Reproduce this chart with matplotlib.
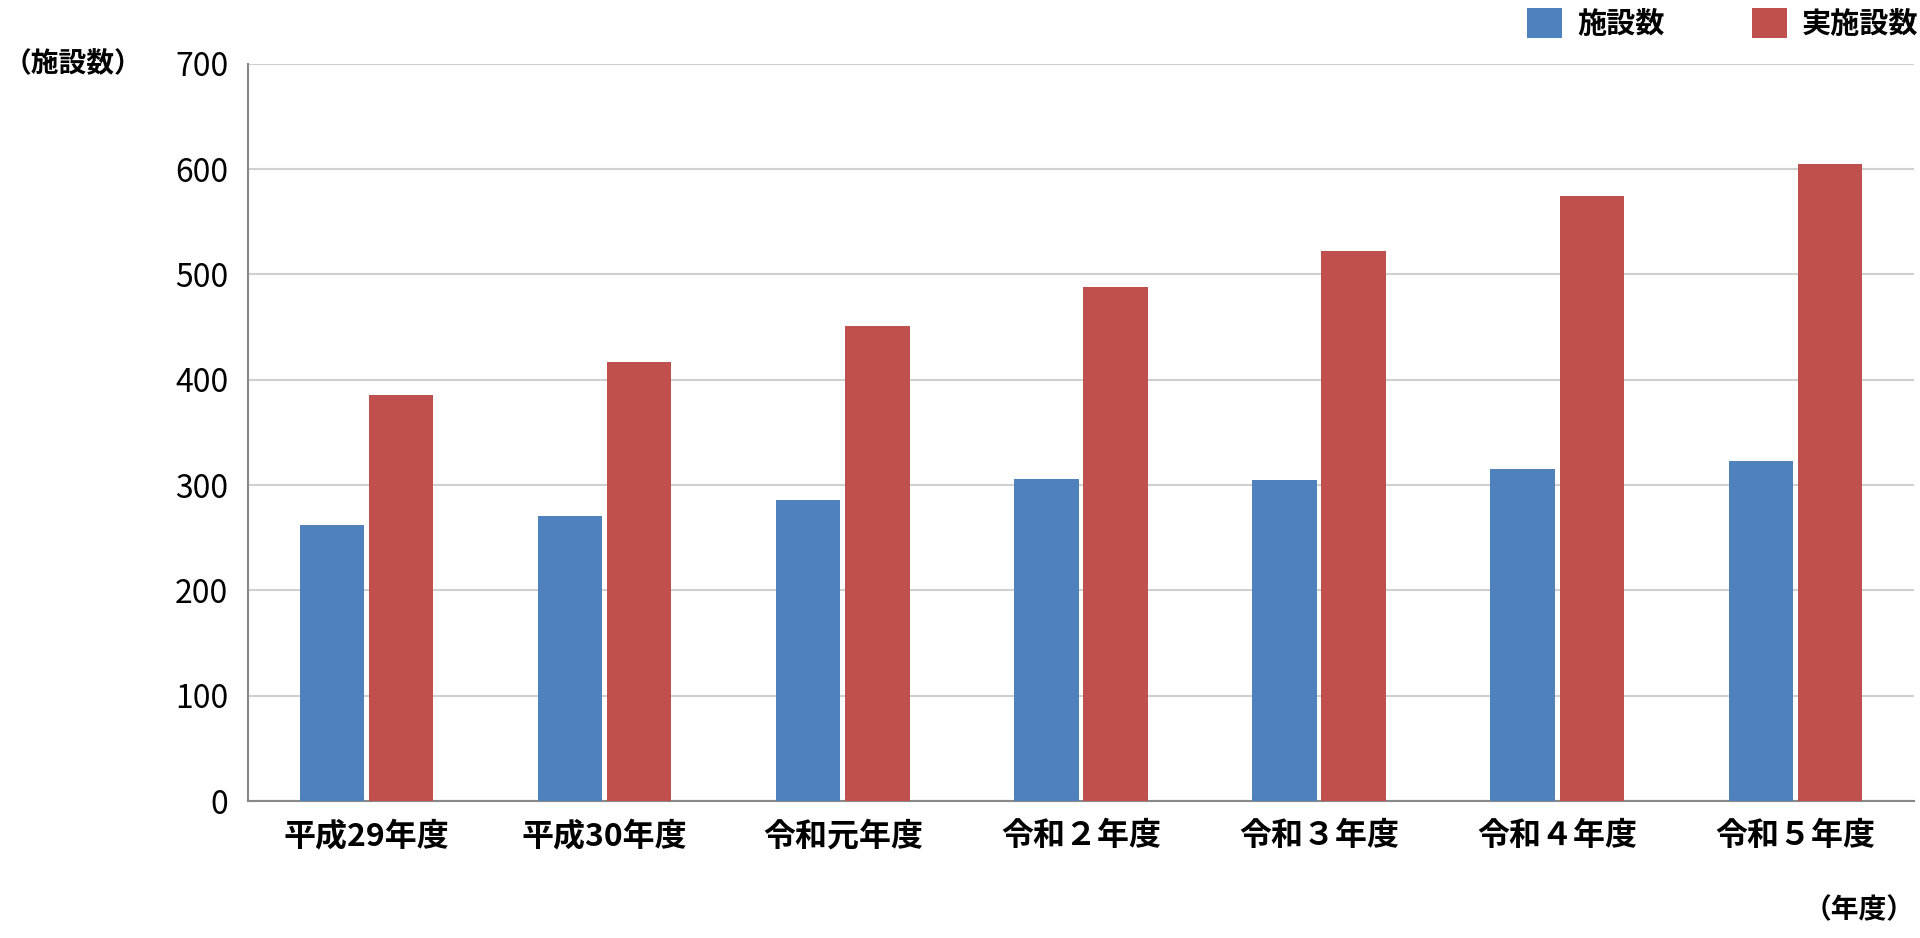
import matplotlib
matplotlib.use("Agg")
import matplotlib.pyplot as plt
import numpy as np

plt.rcParams['font.family'] = ['Noto Sans CJK JP', 'DejaVu Sans']

categories = ["平成29年度", "平成30年度", "令和元年度", "令和２年度", "令和３年度", "令和４年度", "令和５年度"]
facilities = [262, 271, 286, 306, 305, 315, 323]
active_facilities = [386, 417, 451, 488, 522, 574, 605]
yticks = [0, 100, 200, 300, 400, 500, 600, 700]

fig = plt.figure(figsize=(19.2, 9.38), dpi=100)
ax = fig.add_axes([0.129, 0.146, 0.868, 0.786])
x = np.arange(len(categories))
w = 0.27
ax.bar(x - w/2 - 0.01, facilities, w, color='#4F81BD', label='施設数', zorder=3)
ax.bar(x + w/2 + 0.01, active_facilities, w, color='#C0504D', label='実施設数', zorder=3)
ax.set_xlim(-0.5, len(categories) - 0.5)
ax.set_ylim(0, 700)
ax.set_yticks(yticks)
ax.set_yticklabels([str(v) for v in yticks], fontsize=23)
ax.set_xticks(x)
ax.set_xticklabels(categories, fontsize=23, fontweight='bold')
ax.grid(axis='y', color='#D0D0D0', linewidth=1.5, zorder=0)
for s in ['top', 'right']:
    ax.spines[s].set_visible(False)
ax.spines['left'].set_color('#888888')
ax.spines['bottom'].set_color('#888888')
ax.spines['left'].set_linewidth(1.5)
ax.spines['bottom'].set_linewidth(1.5)
ax.tick_params(axis='both', length=0, pad=14)
fig.text(0.002, 0.932, '（施設数）', fontsize=20, fontweight='bold', va='center', ha='left')
fig.text(0.997, 0.03, '（年度）', fontsize=20, fontweight='bold', va='center', ha='right')
fig.legend(*ax.get_legend_handles_labels(), loc='center right', bbox_to_anchor=(1.002, 0.975), ncol=2, frameon=False,
           prop={'size': 21, 'weight': 'bold'}, handlelength=1.2, handleheight=1.2,
           columnspacing=3, handletextpad=0.5, borderaxespad=0, borderpad=0.2)
fig.savefig('out.png', dpi=100)
